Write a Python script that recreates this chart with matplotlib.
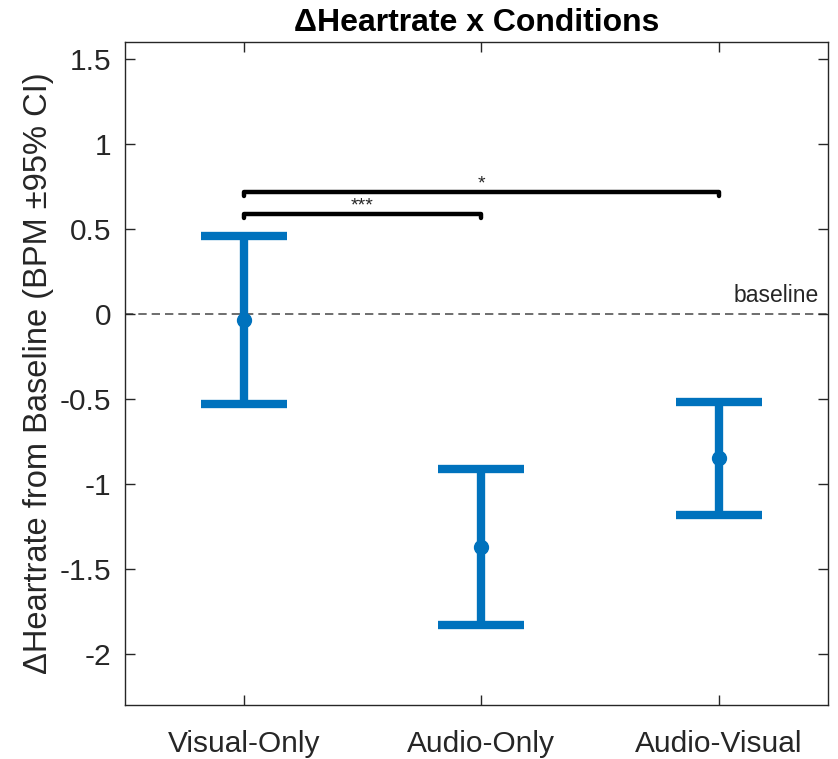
import numpy as np
import matplotlib
matplotlib.use('Agg')
import matplotlib.pyplot as plt

plt.rcParams['font.family'] = ['Liberation Sans', 'DejaVu Sans']
plt.rcParams['axes.unicode_minus'] = False

# data
conditions = ["Visual-Only", "Audio-Only", "Audio-Visual"]
means = [-0.035, -1.37, -0.85]
ci_upper = [0.46, -0.91, -0.52]
ci_lower = [-0.53, -1.83, -1.18]

# significance brackets: (from, to, height, label)
sig_pairs = [(0, 1, 0.585, "***"), (0, 2, 0.714, "*")]

blue = "#0072BD"
dark = "#262626"

fig = plt.figure(figsize=(8.38, 7.59), dpi=100)
ax = fig.add_axes([0.149, 0.071, 0.839, 0.874])

x = np.arange(1, len(conditions) + 1)
means = np.array(means)
yerr = np.vstack([means - np.array(ci_lower), np.array(ci_upper) - means])

ax.axhline(0, color="#555555", linestyle=(0, (5, 3)), linewidth=1.2, zorder=1)
ax.text(3.42, 0.04, "baseline", ha="right", va="bottom", fontsize=16.5, color=dark)

ax.errorbar(x, means, yerr=yerr, fmt="o", color=blue, ecolor=blue,
            elinewidth=6, capsize=31, capthick=6, markersize=10, zorder=3)

for i, j, h, lab in sig_pairs:
    xi, xj = x[i], x[j]
    ax.plot([xi, xi, xj, xj], [h - 0.022, h, h, h - 0.022], color="black",
            linewidth=3.2, solid_capstyle="round", solid_joinstyle="round", zorder=4)
    ax.text((xi + xj) / 2, h + 0.0, lab, ha="center", va="bottom",
            fontsize=14, color=dark)

ax.set_xlim(0.5, 3.46)
ax.set_ylim(-2.3, 1.6)
ax.set_xticks(x)
ax.set_xticklabels(conditions)
ax.set_yticks([-2, -1.5, -1, -0.5, 0, 0.5, 1, 1.5])
ax.set_yticklabels(["-2", "-1.5", "-1", "-0.5", "0", "0.5", "1", "1.5"])
ax.tick_params(direction="in", length=7, width=1, colors=dark, labelsize=21.5,
               top=True, right=True, pad=10)
ax.tick_params(axis="x", pad=18)
for s in ax.spines.values():
    s.set_color(dark)
    s.set_linewidth(1)

ax.set_ylabel("\u0394Heartrate from Baseline (BPM \u00b195% CI)", fontsize=23.5, color=dark)
ax.set_title("\u0394Heartrate x Conditions", fontsize=23, fontweight="bold", pad=8)

fig.savefig("out.png", dpi=100)
